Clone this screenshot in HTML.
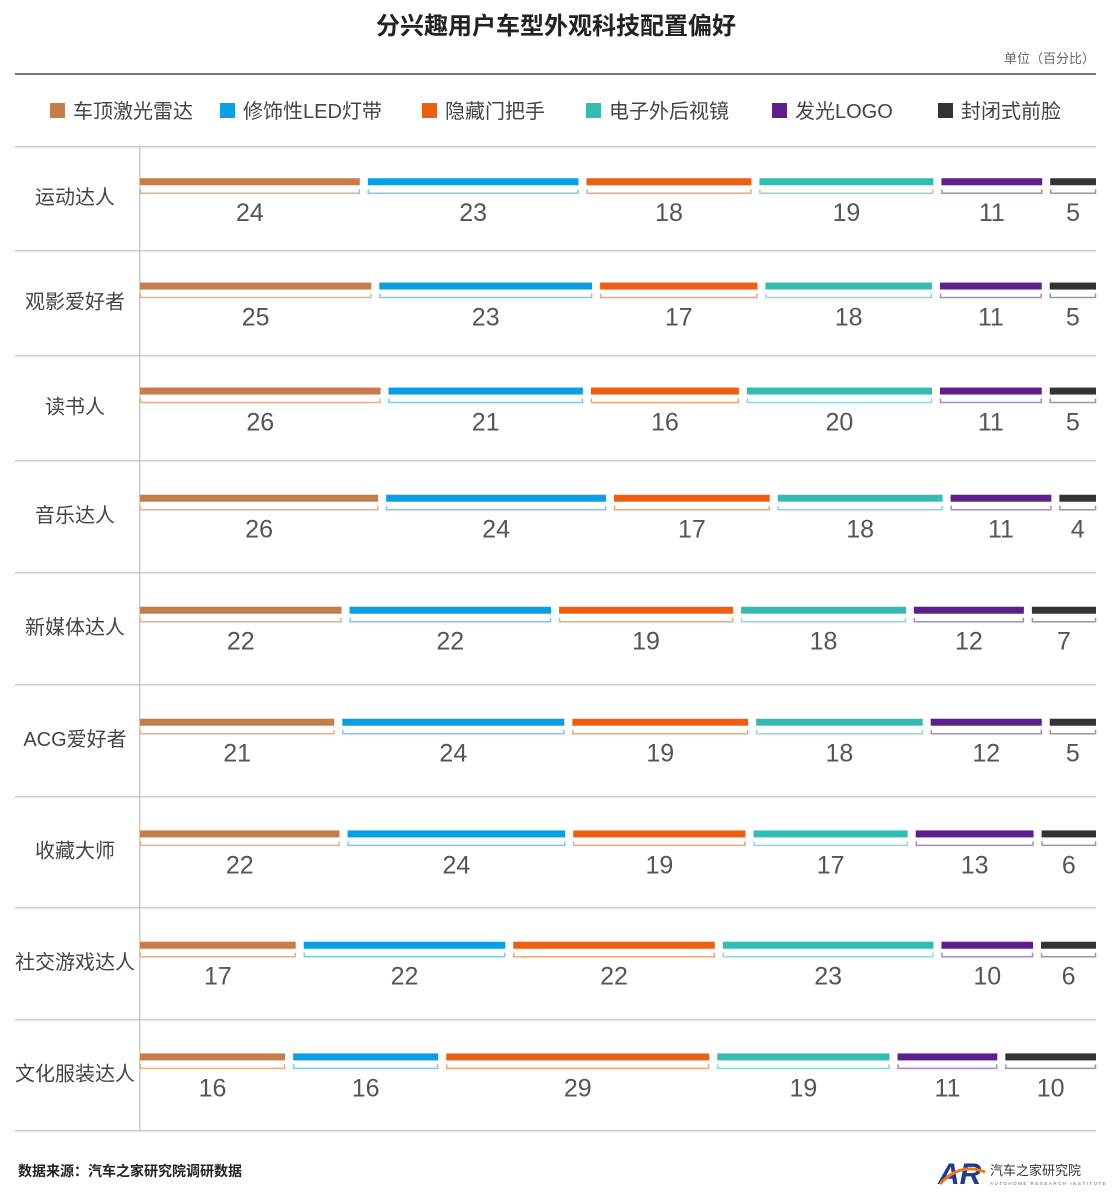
<!DOCTYPE html>
<html><head><meta charset="utf-8"><style>
body{margin:0;background:#fff;font-family:"Liberation Sans","Noto Sans CJK SC",sans-serif;}
#wrap{position:relative;width:1113px;height:1202px;overflow:hidden}
</style></head><body>
<div id="wrap">
<svg id="chart" width="1113" height="1202" font-family="Liberation Sans, Noto Sans CJK SC, sans-serif"></svg>
</div>
<script>
const categories=["运动达人","观影爱好者","读书人","音乐达人","新媒体达人","ACG爱好者","收藏大师","社交游戏达人","文化服装达人"];
const seriesNames=["车顶激光雷达","修饰性LED灯带","隐藏门把手","电子外后视镜","发光LOGO","封闭式前脸"];
const s1=[24,25,26,26,22,21,22,17,16];
const s2=[23,23,21,24,22,24,24,22,16];
const s3=[18,17,16,17,19,19,19,22,29];
const s4=[19,18,20,18,18,18,17,23,19];
const s5=[11,11,11,11,12,12,13,10,11];
const s6=[5,5,5,4,7,5,6,6,10];
const series=[s1,s2,s3,s4,s5,s6];
const colors=["#c57d4b","#0a9fe3","#ec5e12","#35bcb0","#5c1f8c","#333333"];
const lightColors=["#e4b08c","#7cc9f0","#f4a477","#8ed9d2","#a78bc6","#999999"];
const rowTops=[146,250,355,460,572,684,796,907,1019,1130];
const NS="http://www.w3.org/2000/svg";
const svg=document.getElementById('chart');
function mk(tag,attrs,text){const e=document.createElementNS(NS,tag);for(const k in attrs)e.setAttribute(k,attrs[k]);if(text!==undefined)e.textContent=text;svg.appendChild(e);return e;}
let e;
e=mk('text',{x:556,y:34,'text-anchor':'middle','font-size':24,fill:'#222','font-weight':'bold'},'分兴趣用户车型外观科技配置偏好');


e=mk('text',{x:1095,y:63,'text-anchor':'end','font-size':13,fill:'#666'},'单位（百分比）');


e=mk('rect',{x:15,y:73,width:1081,height:2,fill:'#777'});


const legX=[50,220,422,586,772,938];
seriesNames.forEach((n,i)=>{
  e=mk('rect',{x:legX[i],y:103,width:15,height:15,fill:colors[i]});
  
  
  e=mk('text',{x:legX[i]+23,y:118,'font-size':20,fill:'#444'},n);
  
  
});
rowTops.forEach((y,i)=>{
  e=mk('rect',{x:15,y:y,width:1081,height:1.5,fill:'#ccc'});
  
  
});
e=mk('rect',{x:139,y:146,width:1.5,height:984,fill:'#ccc'});


const X0=140,X1=1096,GAP=8;
categories.forEach((c,r)=>{
  const top=rowTops[r],h=rowTops[r+1]-top;
  e=mk('text',{x:75,y:top+h*0.49+7,'text-anchor':'middle','font-size':20,fill:'#444'},c);
  
  
  const vals=series.map(s=>s[r]);
  const sum=vals.reduce((a,b)=>a+b,0);
  const avail=X1-X0-GAP*(vals.length-1);
  let x=X0;
  const by=top+h*0.31;
  vals.forEach((v,i)=>{
    const w=v/sum*avail;
    e=mk('rect',{x:x,y:by,width:w,height:7,fill:colors[i]});
    
    
    e=mk('path',{d:`M${x+0.5},${by+11} V${by+15} H${x+w-0.5} V${by+11}`,fill:'none',stroke:lightColors[i],'stroke-width':1.5});
    
    
    e=mk('text',{x:x+w/2,y:by+43,'text-anchor':'middle','font-size':25,fill:'#555'},String(v));
    
    
    x+=w+GAP;
  });
});
e=mk('text',{x:18,y:1176,'font-size':14,fill:'#222','font-weight':'bold'},'数据来源：汽车之家研究院调研数据');


e=mk('text',{x:938,y:1184,'font-size':30,fill:'#1e3d8f','font-weight':'bold','font-style':'italic'},'AR');


e=mk('path',{d:'M940,1184 Q960,1162 985,1172',fill:'none',stroke:'#ee7a1a','stroke-width':3});


e=mk('text',{x:990,y:1175,'font-size':13,fill:'#333'},'汽车之家研究院');


e=mk('text',{x:990,y:1185,'font-size':4.5,fill:'#666','letter-spacing':1.5},'AUTOHOME RESEARCH INSTITUTE');


</script>
</body></html>
